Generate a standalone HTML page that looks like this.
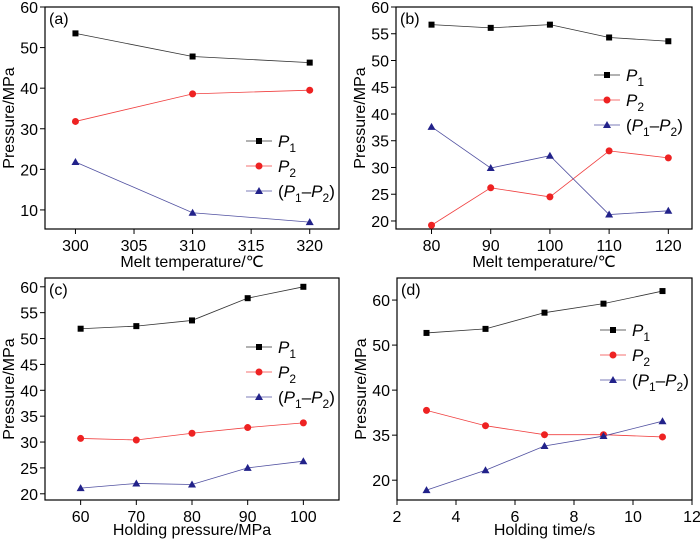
<!DOCTYPE html>
<html><head><meta charset="utf-8"><style>body{margin:0;background:#fff}svg text{font-family:"Liberation Sans",sans-serif}</style></head>
<body>
<svg id="s" width="700" height="539" xmlns="http://www.w3.org/2000/svg"></svg>
<script>
const xA=[300,310,320], a1=[53.5,47.8,46.3], a2=[31.8,38.6,39.5], a3=[21.8,9.3,7.0];
const xB=[80,90,100,110,120], b1=[56.7,56.1,56.7,54.3,53.6], b2=[19.2,26.2,24.5,33.1,31.8], b3=[37.6,29.9,32.2,21.2,21.9];
const xC=[60,70,80,90,100], c1=[51.9,52.4,53.5,57.8,60.0], c2=[30.7,30.4,31.7,32.8,33.7], c3=[21.1,22.0,21.8,25.0,26.3];
const xD=[3,5,7,9,11], d1=[52.7,53.6,57.2,59.2,62.0], d2=[35.5,32.1,30.1,30.1,29.6], d3=[17.8,22.2,27.6,29.8,33.1];
const ticksAx=[300,305,310,315,320], ticksAy=[10,20,30,40,50,60];
const ticksBx=[80,90,100,110,120], ticksBy=[20,25,30,35,40,45,50,55,60];
const ticksCx=[60,70,80,90,100], ticksCy=[20,25,30,35,40,45,50,55,60];
const ticksDx=[2,4,6,8,10,12], ticksDy=[20,30,40,50,60], ticksDyLabels=["20","35","40","50","60"];
const NS="http://www.w3.org/2000/svg", svg=document.getElementById('s');
function mk(t,at,p){const e=document.createElementNS(NS,t);for(const k in at)e.setAttribute(k,at[k]);(p||svg).appendChild(e);return e;}
function panel(id,L,R,T,B,x0,x1,y0,y1,xs,ys,yl,tag,xlab,series,leg,xtOff){
 const g=mk('g',{});
 
 
 const X=v=>L+(v-x0)/(x1-x0)*(R-L), Y=v=>B-(v-y0)/(y1-y0)*(B-T);
 const fr=mk('rect',{x:L,y:T,width:R-L,height:B-T,fill:'none',stroke:'#000','stroke-width':1.2},g);
 
 
 xs.forEach(v=>{mk('line',{x1:X(v),x2:X(v),y1:B,y2:B+5,stroke:'#000'},g);
  const t=mk('text',{x:X(v),y:B+22,'font-size':16,'text-anchor':'middle'},g);t.textContent=v;
  
  });
 ys.forEach((v,i)=>{mk('line',{x1:L-5,x2:L,y1:Y(v),y2:Y(v),stroke:'#000'},g);
  const t=mk('text',{x:L-7,y:Y(v)+6,'font-size':16,'text-anchor':'end'},g);t.textContent=yl?yl[i]:v;
  
  });
 const xt=mk('text',{x:(L+R)/2,y:B+xtOff,'font-size':16,'text-anchor':'middle'},g);xt.textContent=xlab;
 
 
 const cy=(T+B)/2, cx=L-31;
 const yt=mk('text',{x:cx,y:cy,'font-size':16,'text-anchor':'middle',transform:`rotate(-90 ${cx} ${cy})`},g);yt.textContent='Pressure/MPa';
 
 
 const pt=mk('text',{x:L+4,y:T+17,'font-size':16},g);pt.textContent=tag;
 
 
 const cols=['#333','#f04040','#5050a0'], mcol=['#000','#ee2222','#22228a'];
 function mark(x,y,k,p){
  let e;
  if(k==0)e=mk('rect',{x:x-3,y:y-3,width:6,height:6,fill:mcol[0]},p);
  else if(k==1)e=mk('circle',{cx:x,cy:y,r:3.5,fill:mcol[1]},p);
  else e=mk('polygon',{points:`${x},${y-4} ${x-4},${y+3} ${x+4},${y+3}`,fill:mcol[2]},p);
  return e;}
 series.forEach((s,k)=>{
  const sg=mk('g',{},g);
  
  
  mk('polyline',{points:s.x.map((v,i)=>X(v)+','+Y(s.y[i])).join(' '),fill:'none',stroke:cols[k],'stroke-width':0.8},sg);
  s.x.forEach((v,i)=>{const m=mark(X(v),Y(s.y[i]),k,sg);
   
   });
 });
 [0,1,2].forEach(k=>{
  const lg=mk('g',{},g);
  
  
  const yy=leg[1]+k*25;
  mk('line',{x1:leg[0],x2:leg[0]+26,y1:yy,y2:yy,stroke:cols[k],'stroke-width':0.8},lg);
  mark(leg[0]+13,yy,k,lg);
  const t=mk('text',{x:leg[0]+32,y:yy+6,'font-size':17},lg);
  if(k<2){t.innerHTML=`<tspan font-style="italic">P</tspan><tspan font-size="12" dy="5">${k+1}</tspan>`;}
  else t.innerHTML=`(<tspan font-style="italic">P</tspan><tspan font-size="12" dy="5">1</tspan><tspan dy="-5">–</tspan><tspan font-style="italic">P</tspan><tspan font-size="12" dy="5">2</tspan><tspan dy="-5">)</tspan>`;
 });
}
panel('a',45,339,7,229,297.4,322.5,5.3,60,ticksAx,ticksAy,null,'(a)','Melt temperature/℃',
 [{x:xA,y:a1},{x:xA,y:a2},{x:xA,y:a3}],[246,141],38);
panel('b',396,692,7,229,74,124,18.5,60,ticksBx,ticksBy,null,'(b)','Melt temperature/℃',
 [{x:xB,y:b1},{x:xB,y:b2},{x:xB,y:b3}],[594,75],38);
panel('c',45,339,278,500,53.6,106.4,18.8,61.7,ticksCx,ticksCy,null,'(c)','Holding pressure/MPa',
 [{x:xC,y:c1},{x:xC,y:c2},{x:xC,y:c3}],[246,347],35);
panel('d',397,692,278,500,2,12,15.6,64.9,ticksDx,ticksDy,ticksDyLabels,'(d)','Holding time/s',
 [{x:xD,y:d1},{x:xD,y:d2},{x:xD,y:d3}],[600,330],35);
</script>
</body></html>
